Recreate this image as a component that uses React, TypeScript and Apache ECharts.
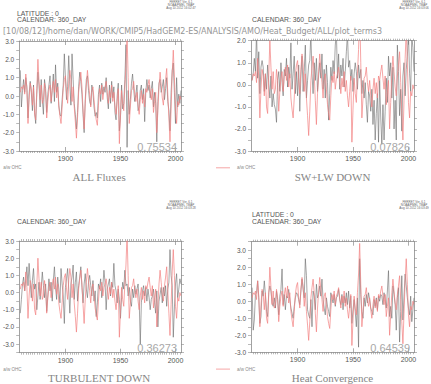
import React, { useEffect, useRef } from 'react';
import * as echarts from 'echarts';

const startYear = 1859;
const xMin = 1858;
const xMax = 2005;
const xLabelYears = [1900, 1950, 2000];
const xMinorTicks: number[] = [];
for (let y = 1860; y <= 2004; y += 2) xMinorTicks.push(y);

// a/w OHC (red), shared by all panels, 1859-2005
const ohc = [
  0.2, 0.5, 0.4, 0.6, 0.1, 1.2, 0.3, -1.5, -0.2, 0.7,
  0.4, -0.5, 0.5, -1.0, -1.3, 0.4, 2.0, 0.8, -0.2, 0.6,
  -0.4, -0.2, 0.7, 0.2, -1.2, -0.3, 0.3, 0.6, -0.3, 0.4,
  0.8, 0.2, 0.9, -0.1, 0.5, -0.6, -1.1, -1.5, -0.6, 0.4,
  0.9, 1.1, 0.2, -0.4, 0.7, 1.4, 0.9, -0.3, 0.5, -0.6,
  -1.4, -2.3, -1.2, 0.2, 0.8, 1.3, 0.5, -0.7, -1.8, -0.4,
  0.6, 1.4, 0.7, 0.1, -0.6, 0.3, 0.5, -0.2, -0.9, -1.3,
  -1.6, -0.5, 0.4, 0.1, 0.6, -0.2, 0.3, 0.5, 0.8, 0.2,
  -0.4, 0.3, -0.1, 0.6, -0.3, 0.2, -0.5, -1.0, -0.3, 0.4,
  -2.6, -1.1, 0.3, -0.4, -0.8, 0.5, 1.6, 3.4, 1.0, -1.5,
  -0.6, 0.3, 0.4, 0.8, 0.1, -0.3, 0.2, -0.5, -1.0, -0.2,
  0.3, -0.4, 0.1, -0.6, 0.4, 0.2, 0.6, 0.9, 0.3, -0.2,
  0.4, -0.9, -0.3, 0.2, -2.0, -0.8, 0.5, 1.3, 0.6, -0.1,
  -0.5, 0.4, 0.9, 1.5, 0.1, -1.2, -2.5, -0.7, 1.2, 2.5,
  1.0, -0.8, -1.5, -0.3, -0.5, 0.0, -0.2,
];

const allFluxes = [
  1.4, -0.6, 0.3, 0.9, 0.2, 1.0, 0.5, -1.2, 0.1, 0.8,
  0.2, -0.8, 0.6, -0.9, -1.5, 0.1, 1.3, 0.6, -0.6, 0.9,
  -0.2, -1.0, 0.9, 0.4, -0.9, 0.1, 0.6, 1.1, -0.4, 0.3,
  1.2, -0.3, 1.7, 0.2, 0.7, -0.5, -1.0, -1.1, -0.2, 0.6,
  2.3, 1.0, -0.2, 0.5, 2.2, 0.6, -0.5, 2.3, 0.9, -0.4,
  -1.0, -1.8, -0.9, 0.5, 1.3, 0.8, 0.1, -1.0, -2.0, -0.2,
  0.9, 1.1, 0.3, -0.3, -0.5, 0.6, 0.2, -0.6, -1.1, -0.9,
  -1.2, 0.1, 0.6, -0.3, 0.7, 0.1, 0.5, 0.2, 1.0, -0.1,
  -0.7, 0.6, -0.4, 0.8, -0.1, 0.5, -0.9, -1.3, 0.0, 0.7,
  -1.9, -1.2, 0.6, -0.7, -0.4, 0.9, 2.8, -2.8, 0.3, -1.0,
  -0.2, 0.7, 1.2, 0.4, -0.3, 0.1, 0.6, -0.8, -0.6, 0.3,
  0.6, -0.2, 0.4, -1.4, 0.2, 0.9, 0.3, 0.6, -0.1, 0.4,
  0.8, -0.6, 0.2, -0.4, -2.5, -0.3, 0.7, 0.9, 0.2, 0.5,
  0.9, -0.2, 0.4, 1.0, -0.3, -0.8, -1.9, 0.2, 1.4, 1.8,
  0.2, -1.5, 1.0, -0.6, 0.1, -0.4, 0.3,
];

const swlwDown = [
  0.2, 0.5, 1.2, 0.6, 2.4, 0.3, 1.5, -0.4, 0.8, 1.1,
  0.8, -0.3, 0.5, -0.2, 0.9, 0.1, -0.6, 0.4, -1.0, -0.4,
  -0.9, -1.1, -1.7, 0.2, 0.6, -0.3, 1.0, 0.1, -0.5, 0.7,
  0.4, 1.2, -0.1, 0.8, 0.3, 1.9, -0.2, 0.5, 1.3, -0.4,
  0.6, -0.5, 0.9, -1.2, 0.4, 1.3, -0.3, 0.6, 1.8, -0.6,
  0.2, 0.9, 1.1, 2.3, 0.5, -0.4, 1.0, 0.2, 1.2, -0.3,
  0.4, 1.0, 0.3, 1.4, -0.2, 0.7, -0.6, 0.9, 0.1, -1.6,
  -0.4, 0.8, 0.2, 1.1, 0.5, 1.8, 2.4, 0.3, 1.4, -0.2,
  0.9, 0.4, 1.2, -0.1, 0.6, 1.5, 2.3, 0.8, 1.1, 0.2,
  0.7, -0.3, 0.5, 1.0, 0.6, -0.2, 0.9, 0.3, 0.7, -0.4,
  0.2, -0.6, 0.1, -0.9, -1.7, -0.3, -0.5, -1.2, -0.2, -1.8,
  -0.7, -2.5, -1.3, -0.4, -2.6, 0.2, -1.5, -2.7, -0.9, -2.5,
  -1.2, 0.3, -0.8, 1.3, 0.4, 1.0, -0.6, 0.8, -2.0, -0.7,
  -2.5, 1.8, 0.6, -1.4, -0.2, -2.1, 0.4, 1.0, -0.5, 0.7,
  1.3, 2.4, 0.5, -0.3, 2.2, 1.7, 0.6,
];

const turbulentDown = [
  -1.2, -0.4, 0.5, 0.9, 0.1, 0.8, 1.5, 0.4, 1.7, 0.6,
  -0.3, 0.7, 1.4, 0.2, 0.5, -1.0, -0.2, 0.6, -0.4, 0.3,
  1.2, 0.4, -0.3, 0.5, -1.1, -0.2, 0.8, 0.1, 0.6, -0.5,
  0.7, 1.5, 0.3, -0.4, 0.9, 0.2, -0.6, 1.4, 0.5, -0.2,
  -1.8, 0.3, 0.8, 1.4, 0.2, -1.2, 0.5, 0.9, 1.6, -0.4,
  0.6, 1.2, -0.5, 0.4, 0.9, 1.5, 0.3, -0.6, 0.5, 1.1,
  0.2, -0.3, 0.6, 1.0, 0.4, -0.2, 0.7, -0.5, 0.1, -1.4,
  -0.6, 0.5, 0.2, 0.8, -0.3, 0.4, 1.3, 0.6, -1.0, 0.2,
  0.5, 0.8, -0.2, 0.6, 0.3, 1.7, 0.4, 0.1, -0.6, 0.2,
  -0.4, -1.5, -0.3, 0.6, 0.2, 1.3, 0.4, 0.5, -0.2, 0.3,
  -0.5, -0.8, 0.2, -0.3, 0.4, -0.1, 0.2, 0.5, -0.4, -3.0,
  -0.6, 0.1, 0.4, -0.2, 0.3, -0.5, 0.2, -0.3, -1.0, -0.4,
  -0.2, 0.2, -0.6, -1.2, 0.1, -2.0, -0.5, -0.1, 0.3, -0.6,
  0.3, -0.2, 0.4, -0.8, 0.2, 0.6, 2.5, 1.0, 0.4, -2.6,
  -0.9, 0.5, 1.1, -0.3, 0.2, 0.8, 0.5,
];

const heatConvergence = [
  0.8, -1.7, -1.1, 0.4, 0.5, 1.2, 0.2, -1.3, -0.9, 0.6,
  0.3, 1.2, 0.4, -0.6, -0.9, 0.5, 0.9, 0.6, -0.1, -0.3,
  0.2, -0.4, 0.6, 0.1, -0.8, 0.3, 0.7, 1.9, -0.2, 0.4,
  -0.5, 0.3, 0.2, 0.7, 0.1, -0.4, -0.7, -1.0, -0.3, 0.2,
  0.5, 0.4, 0.1, -0.2, 0.6, 1.3, 0.7, 0.2, 2.5, 1.5,
  -0.5, -0.8, -1.0, 0.1, -1.5, 0.6, 0.3, -0.5, 1.0, 0.2,
  0.4, 0.9, 0.3, 1.3, 0.1, -0.4, -0.8, 0.2, -0.3, -0.6,
  -0.9, 0.5, 0.2, -0.1, 0.4, -0.3, 0.2, 0.3, 0.7, 0.1,
  -0.2, 0.4, -0.5, 0.3, -0.1, 0.5, -0.2, 0.6, -0.4, 0.3,
  -1.3, -0.5, 0.1, -0.6, -1.5, 0.2, -2.7, 2.5, 0.4, -0.6,
  -1.0, 0.2, -0.3, 0.4, -0.1, 0.5, 0.1, -0.4, -0.6, -0.8,
  0.1, -0.3, 0.2, -0.5, 0.3, 0.0, 0.4, 0.3, -0.2, 0.5,
  0.1, -0.4, 0.6, 1.8, -0.9, -0.3, -1.0, 0.9, 0.4, -0.2,
  -1.7, 0.2, 0.8, -2.4, -0.6, 1.5, -1.1, 0.3, 1.6, 0.9,
  0.2, -0.4, -0.8, 0.3, -1.2, -0.5, 0.2,
];

const blackSeries = [allFluxes, swlwDown, turbulentDown, heatConvergence];
const panelTitles = ['ALL Fluxes', 'SW+LW DOWN', 'TURBULENT DOWN', 'Heat Convergence'];
const correlations = ['0.75534', '0.07826', '0.36273', '0.64539'];
const yMins = [-3, -3, -3.5, -3];
const yMaxs = [3, 2, 3, 3.5];
const yLabelValues = [
  [-3, -2, -1, 0, 1, 2, 3],
  [-3, -2, -1, 0, 1, 2],
  [-3, -2, -1, 0, 1, 2, 3],
  [-3, -2, -1, 0, 1, 2, 3],
];
const legendName = 'a/w OHC';
const pathText = '[10/08/12]/home/dan/WORK/CMIP5/HadGEM2-ES/ANALYSIS/AMO/Heat_Budget/ALL/plot_terms3';
const ferretLines = [
  ['FERRET Ver. 6.1', 'NOAA/PMEL TMAP', 'Aug 10 2012 16:02:47'],
  ['FERRET Ver. 6.1', 'NOAA/PMEL TMAP', 'Aug 10 2012 16:03:06'],
  ['FERRET Ver. 6.1', 'NOAA/PMEL TMAP', 'Aug 10 2012 16:03:28'],
  ['FERRET Ver. 6.1', 'NOAA/PMEL TMAP', 'Aug 10 2012 16:03:49'],
];

const grids = [
  { left: 17.3, top: 41, width: 163.7, height: 110 },
  { left: 251, top: 40.7, width: 163, height: 110.3 },
  { left: 17.3, top: 241, width: 163.7, height: 111.7 },
  { left: 251, top: 241.7, width: 163, height: 110.6 },
];

const FRAME = '#8a8a8a';
const BLACK = '#6a6a6a';
const RED = '#f28080';

function halfSteps(min: number, max: number) {
  const out: number[] = [];
  for (let v = Math.ceil(min * 2) / 2; v <= max + 1e-9; v += 0.5) out.push(Math.round(v * 10) / 10);
  return out;
}

function buildOption() {
  const xAxes: any[] = [];
  const yAxes: any[] = [];
  const series: any[] = [];
  const graphic: any[] = [];

  grids.forEach((g, i) => {
    const base = { gridIndex: i, type: 'value', min: xMin, max: xMax, splitLine: { show: false } };
    const lineOn = { show: true, onZero: false, lineStyle: { color: FRAME, width: 0.8 } };
    const lineOff = { show: false, onZero: false };
    xAxes.push({
      ...base, position: 'bottom', axisLine: lineOn,
      axisTick: { show: true, customValues: xMinorTicks, length: 2, lineStyle: { color: FRAME, width: 0.6 } },
      axisLabel: {
        show: true, customValues: xLabelYears, fontSize: 7, color: '#555', margin: 4,
        fontFamily: 'Liberation Sans', formatter: (v: number) => String(v),
      },
    });
    xAxes.push({
      ...base, position: 'top', axisLine: lineOn,
      axisTick: { show: true, customValues: xMinorTicks, length: 2, lineStyle: { color: FRAME, width: 0.6 } },
      axisLabel: { show: false, customValues: xMinorTicks },
    });
    xAxes.push({
      ...base, position: 'bottom', axisLine: lineOff,
      axisTick: { show: true, inside: true, customValues: xLabelYears, length: 4, lineStyle: { color: FRAME, width: 0.7 } },
      axisLabel: { show: false, customValues: xLabelYears },
    });
    xAxes.push({
      ...base, position: 'top', axisLine: lineOff,
      axisTick: { show: true, inside: true, customValues: xLabelYears, length: 4, lineStyle: { color: FRAME, width: 0.7 } },
      axisLabel: { show: false, customValues: xLabelYears },
    });
    const yb = { gridIndex: i, type: 'value', min: yMins[i], max: yMaxs[i], splitLine: { show: false } };
    const hs = halfSteps(yMins[i], yMaxs[i]);
    yAxes.push({
      ...yb, position: 'left', axisLine: lineOn,
      axisTick: { show: true, customValues: hs, length: 3, lineStyle: { color: FRAME, width: 0.6 } },
      axisLabel: {
        show: true, customValues: yLabelValues[i], fontSize: 6.5, color: '#555', margin: 5,
        fontFamily: 'Liberation Sans', formatter: (v: number) => v.toFixed(1),
      },
    });
    yAxes.push({
      ...yb, position: 'right', axisLine: lineOn,
      axisTick: { show: true, customValues: hs, length: 3, lineStyle: { color: FRAME, width: 0.6 } },
      axisLabel: { show: false, customValues: hs },
    });

    const blk = blackSeries[i];
    series.push({
      type: 'line', xAxisIndex: i * 4, yAxisIndex: i * 2, symbol: 'none', clip: true,
      data: blk.map((v, k) => [startYear + k, v]),
      lineStyle: { color: BLACK, width: 0.6 }, z: 2,
    });
    series.push({
      type: 'line', xAxisIndex: i * 4, yAxisIndex: i * 2, symbol: 'none', clip: true,
      data: ohc.map((v, k) => [startYear + k, v]),
      lineStyle: { color: RED, width: 0.7 }, z: 3,
    });

    const right = g.left + g.width;
    const bottom = g.top + g.height;
    const cx = g.left + g.width / 2;
    graphic.push({
      type: 'text', x: cx, y: bottom + 25.5,
      style: { text: panelTitles[i], fontSize: 11, fontFamily: 'Liberation Serif', fill: '#858585', align: 'center', verticalAlign: 'middle' },
    });
    graphic.push({
      type: 'text', x: right - 4, y: bottom - 4.5, z: 10,
      style: { text: correlations[i], fontSize: 11, fontFamily: 'Liberation Sans', fill: '#a8a8a8', align: 'right', verticalAlign: 'middle' },
    });
    const ly = bottom + 16.8;
    graphic.push({
      type: 'line', shape: { x1: g.left - 35, y1: ly, x2: g.left - 21, y2: ly },
      style: { stroke: RED, lineWidth: 0.7 },
    });
    graphic.push({
      type: 'text', x: g.left - 14, y: ly,
      style: { text: legendName, fontSize: 4.5, fontFamily: 'Liberation Sans', fill: '#888', align: 'left', verticalAlign: 'middle' },
    });
    const fy = i < 2 ? 1.5 : 202;
    ferretLines[i].forEach((t, k) => {
      graphic.push({
        type: 'text', x: right, y: fy + k * 3,
        style: { text: t, fontSize: 3, fontFamily: 'Liberation Sans', fill: '#666', align: 'center', verticalAlign: 'middle' },
      });
    });
  });

  const small = (t: string, x: number, y: number) => ({
    type: 'text', x, y,
    style: { text: t, fontSize: 6.8, fontFamily: 'Liberation Sans', fill: '#555', align: 'left', verticalAlign: 'middle' },
  });
  graphic.push(small('LATITUDE : 0', 17, 13));
  graphic.push(small('CALENDAR: 360_DAY', 17, 19.5));
  graphic.push(small('CALENDAR: 360_DAY', 252, 19.5));
  graphic.push(small('CALENDAR: 360_DAY', 17, 221));
  graphic.push(small('LATITUDE : 0', 252, 214));
  graphic.push(small('CALENDAR: 360_DAY', 252, 221));
  graphic.push({
    type: 'text', x: 3, y: 31.5,
    style: { text: pathText, fontSize: 8, fontFamily: 'DejaVu Sans', fill: '#959595', align: 'left', verticalAlign: 'middle' },
  });

  return {
    animation: false,
    backgroundColor: '#ffffff',
    grid: grids.map((g) => ({ ...g, containLabel: false })),
    xAxis: xAxes,
    yAxis: yAxes,
    series,
    graphic,
  };
}

export default function App() {
  const ref = useRef<HTMLDivElement>(null);
  useEffect(() => {
    if (!ref.current) return;
    const chart = echarts.init(ref.current, undefined, { renderer: 'svg' });
    chart.setOption(buildOption() as any);
    return () => chart.dispose();
  }, []);
  return <div ref={ref} style={{ position: 'fixed', left: 0, top: 0, width: 431, height: 384 }} />;
}
